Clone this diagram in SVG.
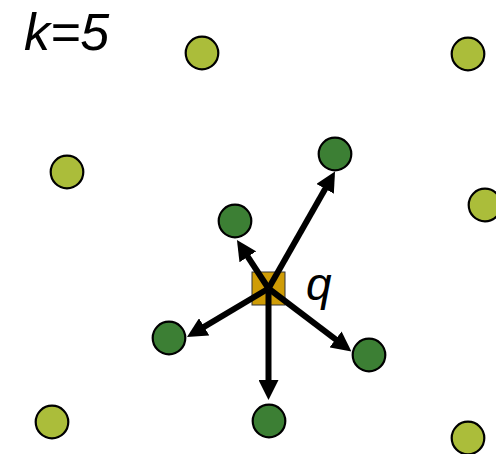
<svg xmlns="http://www.w3.org/2000/svg" width="496" height="454" viewBox="0 0 496 454">
<style>
.far{fill:#abbd3a;stroke:#000;stroke-width:2.2}
.near{fill:#3c7f34;stroke:#000;stroke-width:2.2}
.lbl{font-family:"Liberation Sans",Arial,sans-serif;font-style:italic;fill:#000}
.edge{stroke:#000;stroke-width:6;fill:none;marker-end:url(#ah)}
</style>
<defs>
<marker id="ah" markerUnits="userSpaceOnUse" viewBox="0 0 20 20" markerWidth="20" markerHeight="20" refX="8" refY="10" orient="auto">
<path d="M0,0 L20,10 L0,20 z" fill="#000"/>
</marker>
</defs>
<rect width="496" height="454" fill="#fff"/>
<g id="label-k"><text class="lbl" x="24" y="50" font-size="52">k=5</text></g>
<g id="q">
<rect x="252" y="272" width="33" height="33" fill="#cf9c06" stroke="#333" stroke-width="1"/>
<text class="lbl" x="306" y="300" font-size="46">q</text>
</g>
<g id="connectors">
<line class="edge" x1="268.5" y1="288.5" x2="329.1" y2="181.9"/>
<line class="edge" x1="268.5" y1="288.5" x2="243.5" y2="250.1"/>
<line class="edge" x1="268.5" y1="288.5" x2="197.3" y2="330.9"/>
<line class="edge" x1="268.5" y1="288.5" x2="268.5" y2="388"/>
<line class="edge" x1="268.5" y1="288.5" x2="341.9" y2="344.2"/>
</g>
<g id="n1"><circle class="near" cx="335" cy="154" r="16.3"/></g>
<g id="n2"><circle class="near" cx="235" cy="221" r="16.3"/></g>
<g id="n3"><circle class="near" cx="169" cy="338" r="16.3"/></g>
<g id="n4"><circle class="near" cx="269" cy="421" r="16.3"/></g>
<g id="n5"><circle class="near" cx="369" cy="355" r="16.3"/></g>
<g id="f1"><circle class="far" cx="202" cy="53" r="16.3"/></g>
<g id="f2"><circle class="far" cx="468" cy="54" r="16.3"/></g>
<g id="f3"><circle class="far" cx="67" cy="172" r="16.3"/></g>
<g id="f4"><circle class="far" cx="485" cy="205" r="16.3"/></g>
<g id="f5"><circle class="far" cx="52" cy="422" r="16.3"/></g>
<g id="f6"><circle class="far" cx="468" cy="438" r="16.3"/></g>
</svg>
